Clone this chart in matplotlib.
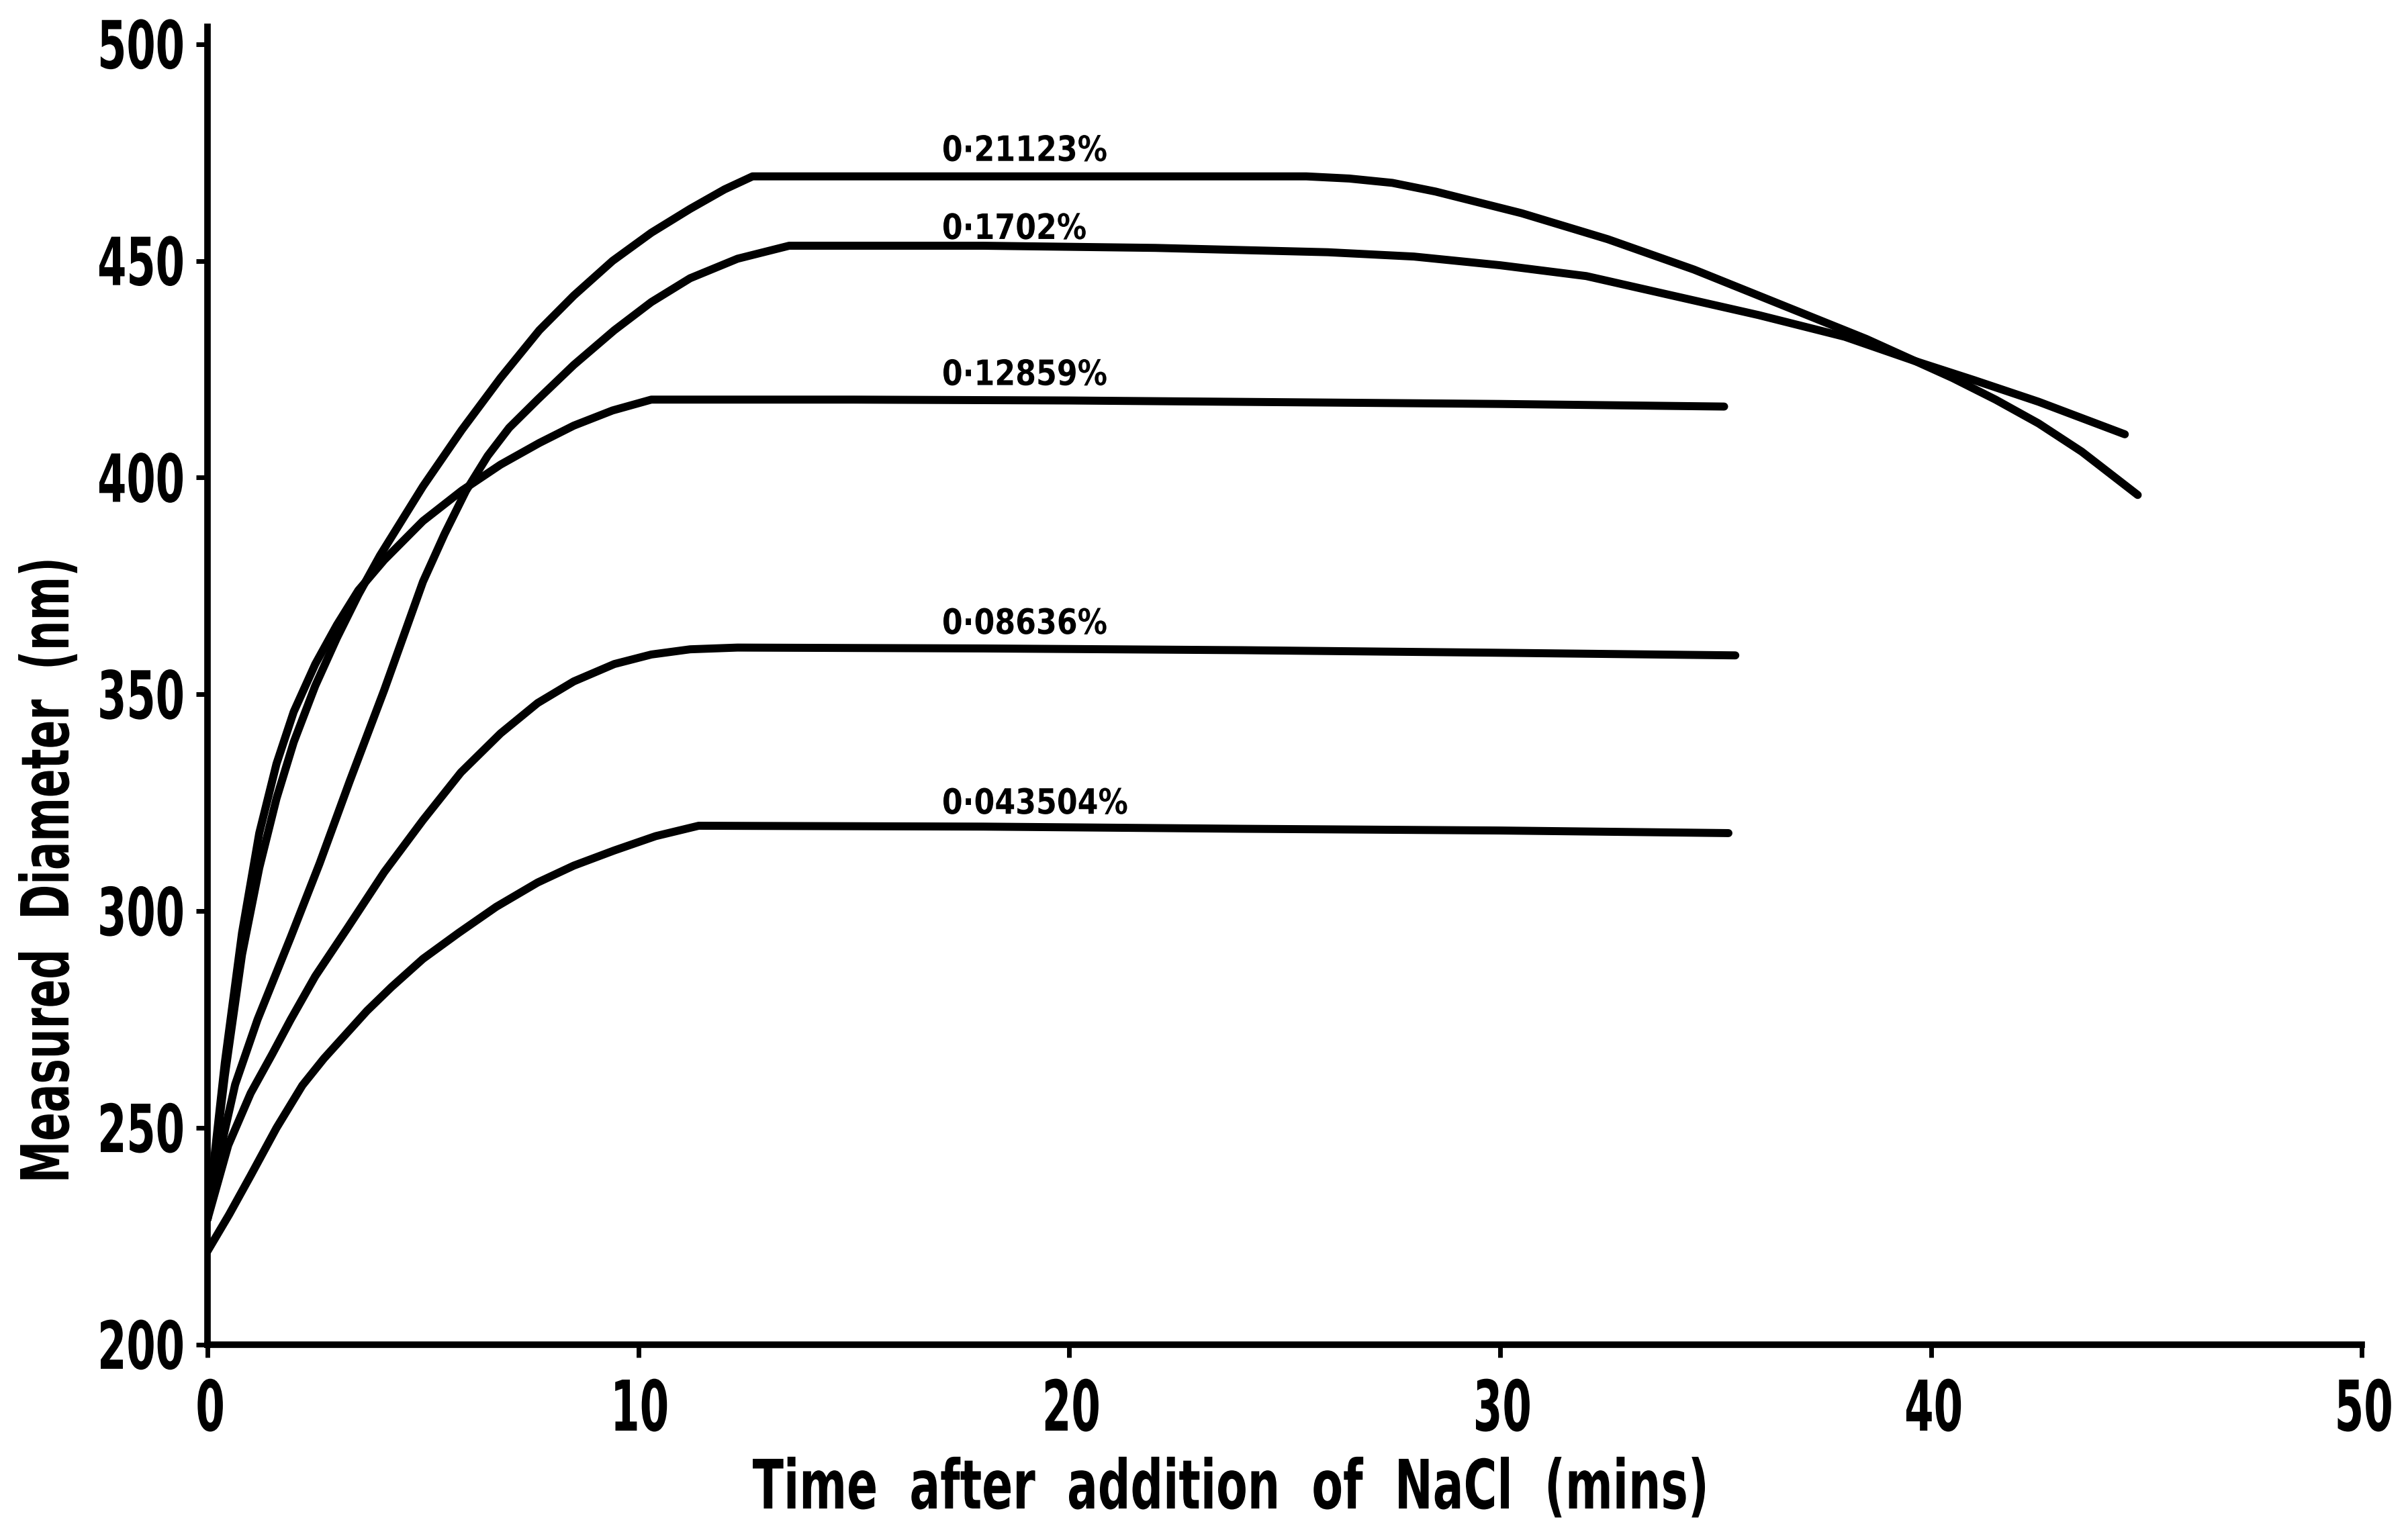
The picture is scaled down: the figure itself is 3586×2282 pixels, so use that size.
import numpy as np
import matplotlib.pyplot as plt
from matplotlib.textpath import TextPath
from matplotlib.patches import PathPatch
from matplotlib.font_manager import FontProperties
from matplotlib.transforms import Affine2D

# time (mins) and measured diameter (nm) for each NaCl concentration
t_021123 = [0, 0.4, 0.8, 1.2, 1.6, 2.0, 2.5, 3.0, 3.5, 4.0, 4.5, 5.0, 5.9, 6.8, 7.7,
            8.5, 9.4, 10.3, 11.2, 12.0, 12.65, 16, 20, 25.5, 26.5, 27.5, 28.5,
            29.5, 30.5, 31.5, 32.5, 33.5, 34.5, 35.5, 36.5, 37.5, 38.5, 39.5,
            40.5, 41.5, 42.5, 43.5, 44.8]
d_021123 = [229, 262, 290, 310, 326, 339, 352, 363, 373, 382, 390, 398, 411, 423, 434,
            442, 450, 456.5, 462, 466.5, 469.5, 469.5, 469.5, 469.5, 469, 468, 466,
            463.5, 461, 458, 455, 451.5, 448, 444, 440, 436, 432, 427.5,
            423, 418, 412.5, 406, 396]

t_01702 = [0, 0.3, 0.64, 1.16, 1.93, 2.6, 3.3, 4.1, 5.0, 5.5, 6.0, 6.5, 7.0, 7.66,
           8.5, 9.44, 10.3, 11.2, 12.3, 13.5, 18, 22, 26, 28, 30, 32, 34, 36, 38,
           39.6, 41, 42.5, 44.5]
d_01702 = [230, 245, 260, 275, 294, 311, 330, 351, 376, 387, 397, 405, 411.5, 418,
           426, 434, 440.5, 446, 450.5, 453.5, 453.5, 453, 452, 451, 449, 446.5, 442,
           437.5, 432.5, 427, 422.5, 417.5, 410]

t_012859 = [0, 0.4, 0.8, 1.2, 1.6, 2.0, 2.5, 3.0, 3.5, 4.1, 5.0, 5.9, 6.8, 7.7, 8.5,
            9.4, 10.3, 15, 20, 25, 30, 35.2]
d_012859 = [229, 265, 295, 318, 334, 346, 357, 366, 374, 381, 390, 397, 403, 408, 412,
            415.5, 418, 418, 417.8, 417.4, 417, 416.4]

t_008636 = [0, 0.48, 1.0, 1.5, 1.93, 2.5, 3.24, 4.1, 5.0, 5.88, 6.8, 7.66, 8.5, 9.44,
            10.3, 11.2, 12.3, 18, 24, 30, 35.46]
d_008636 = [229, 246, 258, 267, 275, 285, 296, 309, 321, 332, 341, 348, 353, 357,
            359.2, 360.4, 360.8, 360.6, 360.2, 359.6, 359]

t_0043504 = [0, 0.5, 1.0, 1.6, 2.2, 2.7, 3.2, 3.7, 4.27, 5.0, 5.83, 6.7, 7.66, 8.5,
             9.44, 10.4, 11.4, 18, 24, 30, 35.3]
d_0043504 = [221.6, 230, 239, 250, 259.8, 266, 271.5, 277, 282.5, 289, 295, 301, 306.6,
             310.5, 314, 317.3, 319.7, 319.5, 319, 318.6, 318]

series = [
    (t_021123, d_021123, '0·21123%', 476.0),
    (t_01702, d_01702, '0·1702%', 458.0),
    (t_012859, d_012859, '0·12859%', 424.3),
    (t_008636, d_008636, '0·08636%', 366.9),
    (t_0043504, d_0043504, '0·043504%', 325.4),
]
label_x = 17.08
x_ticks = [0, 10, 20, 30, 40, 50]
y_ticks = [200, 250, 300, 350, 400, 450, 500]

W, H = 3586, 2282
LETTERING = FontProperties(family='DejaVu Sans', weight='bold')


def lettering(fig, x, y, s, cap, sx=None, width=None, ha='center', rotation=0):
    """Narrow stencil-style text, x/y in pixels (y from bottom), vertically centred on caps."""
    size = cap / 0.729
    path = TextPath((0, 0), s, size=size, prop=LETTERING)
    ext = path.get_extents()
    if width is not None:
        sx = width / (ext.x1 - ext.x0)
    dx = {'left': ext.x0, 'center': (ext.x0 + ext.x1) / 2, 'right': ext.x1}[ha]
    tr = (Affine2D().translate(-dx, -cap / 2).scale(sx, 1)
          .rotate_deg(rotation).translate(x, y))
    fig.add_artist(PathPatch(path, transform=tr, facecolor='black',
                             edgecolor='none'))


fig = plt.figure(figsize=(W / 100, H / 100), dpi=100)
ax = fig.add_axes([0.0862, 0.1223, 0.8946, 0.8602])

for t, d, name, ly in series:
    ax.plot(t, d, color='black', lw=8.6, solid_capstyle='round',
            solid_joinstyle='round')

ax.set_xlim(0, 50)
ax.set_ylim(200, 504)
ax.set_xticks(x_ticks)
ax.set_yticks(y_ticks)
ax.set_xticklabels([])
ax.set_yticklabels([])

for side in ['top', 'right']:
    ax.spines[side].set_visible(False)
for side in ['left', 'bottom']:
    ax.spines[side].set_linewidth(7)
ax.tick_params(axis='y', direction='out', length=12, width=5)
ax.tick_params(axis='x', direction='out', length=14, width=5)

# tick labels
for v in y_ticks:
    _, py = ax.transData.transform((0, v))
    lettering(fig, 272, py, str(v), 72, sx=0.63, ha='right')
for v in x_ticks:
    px, _ = ax.transData.transform((v, 200))
    lettering(fig, px + 4, H - 2093, str(v), 76, sx=0.6)

# curve labels
for t, d, name, ly in series:
    px, py = ax.transData.transform((label_x, ly))
    lettering(fig, px, py, name, 38, sx=0.85, ha='left')

# axis titles
lettering(fig, 1830, H - 2210, 'Time  after  addition  of  NaCl  (mins)', 74,
          width=1418)
lettering(fig, 66, H - 1296, 'Measured  Diameter  (nm)', 72, width=921,
          rotation=90)

fig.savefig('out.png', dpi=100)
